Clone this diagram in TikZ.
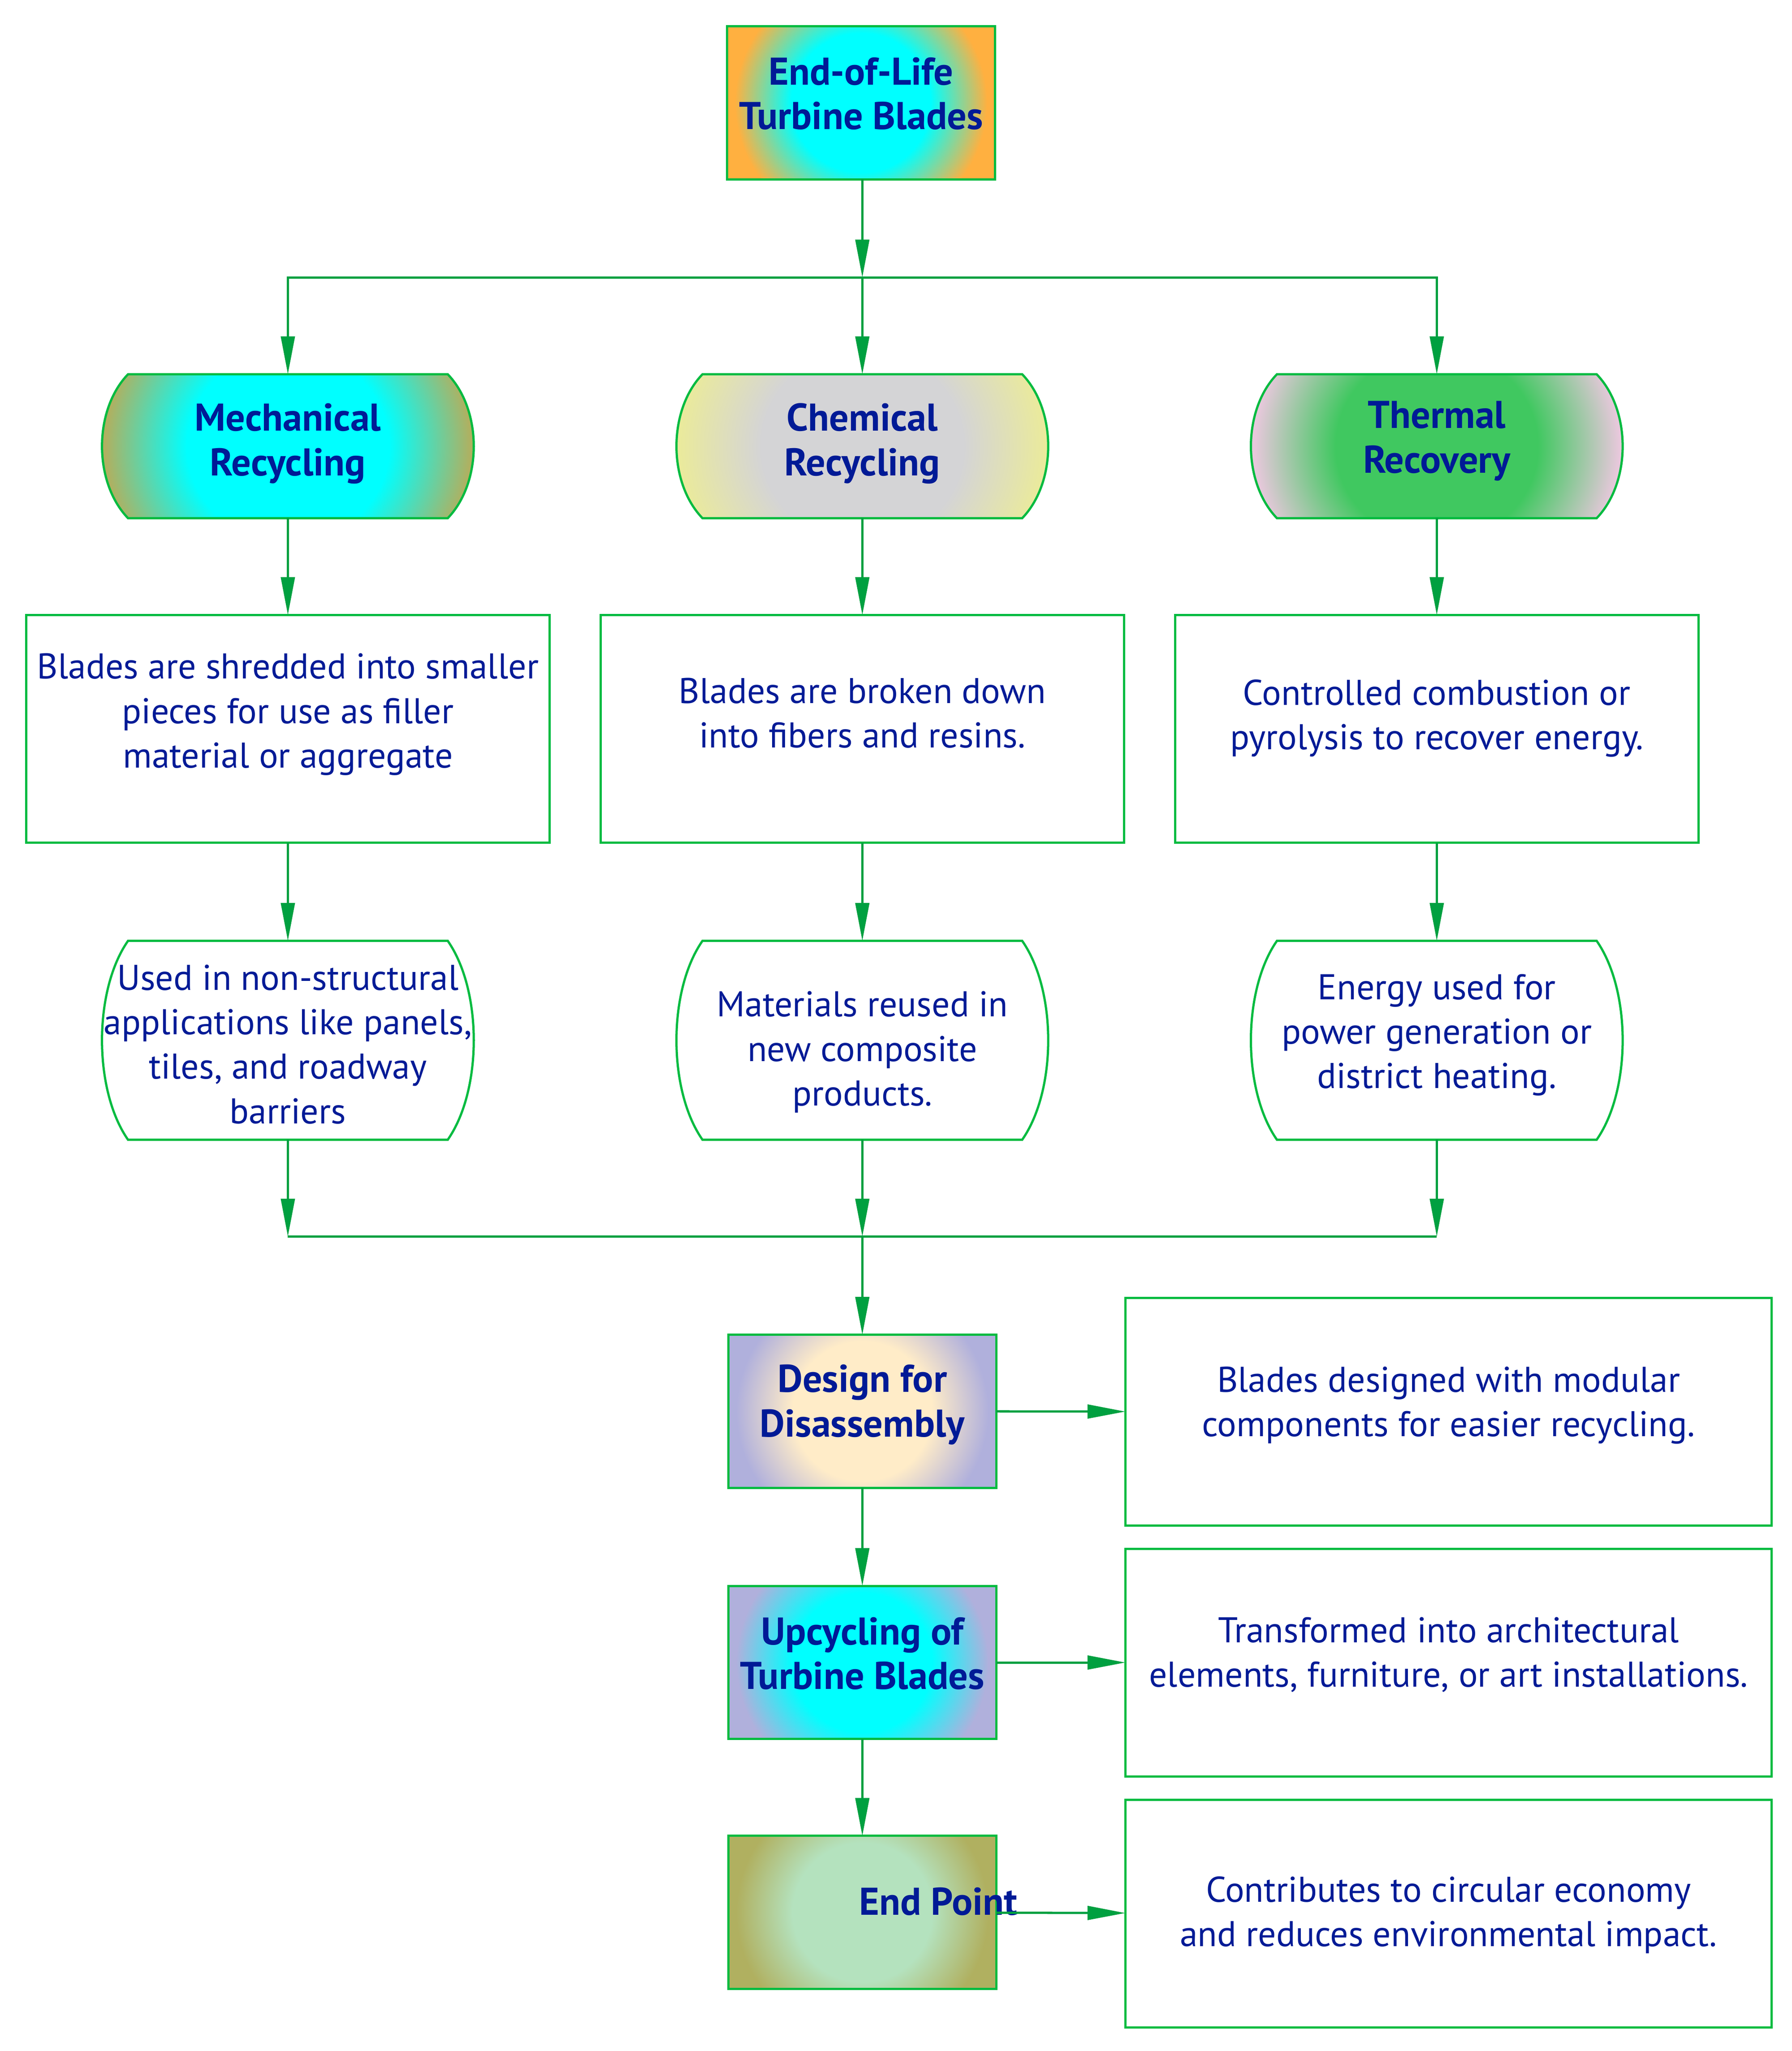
\documentclass[tikz,border=0pt]{standalone}
\usepackage{fontspec}
\setmainfont{PT Sans}
\usetikzlibrary{arrows.meta,calc,backgrounds}
\definecolor{txt}{RGB}{0,26,150}
\definecolor{bord}{RGB}{0,187,64}
\definecolor{edgec}{RGB}{0,160,64}
\definecolor{cOrange}{RGB}{255,176,64}
\definecolor{cCyan}{RGB}{0,255,255}
\definecolor{cOlive}{RGB}{176,176,96}
\definecolor{cYel}{RGB}{234,234,156}
\definecolor{cGrey}{RGB}{212,212,214}
\definecolor{cPink}{RGB}{232,200,220}
\definecolor{cGreen}{RGB}{64,200,96}
\definecolor{cLav}{RGB}{176,176,220}
\definecolor{cCream}{RGB}{255,236,200}
\definecolor{cMint}{RGB}{180,226,190}
\colorlet{gin}{white}\colorlet{gout}{white}
\pgfdeclareradialshading[gin,gout]{glow}{\pgfpoint{0bp}{0bp}}{color(0bp)=(gin); color(13bp)=(gin); color(23.5bp)=(gout); color(50bp)=(gout)}
\tikzset{
  every node/.style={outer sep=0pt, inner sep=0pt, text=txt, align=center,
    font=\fontsize{13.5pt}{16.8pt}\selectfont},
  head/.style={font=\fontsize{14.6pt}{16.8pt}\selectfont\bfseries},
  txtbox/.style 2 args={draw=bord, line width=0.85pt,
    minimum width={#1*0.494pt}, minimum height={#2*0.494pt}},
  ghost/.style 2 args={minimum width={#1*0.494pt}, minimum height={#2*0.494pt}},
  tx/.style 2 args={label={[yshift={#1*0.494pt}]center:{#2}}},
  htx/.style 2 args={label={[head, yshift={#1*0.494pt}]center:{#2}}},
  grad/.style n args={3}{fill=#2, path picture={\colorlet{gin}{#1}\colorlet{gout}{#2}%
    \shade[shading=glow] (path picture bounding box.center) circle[radius=#3];}},
  barrel/.style={draw=bord, line width=0.85pt, insert path={
    ([xshift=9.8pt]#1.north west) -- ([xshift=-9.8pt]#1.north east)
    .. controls ($(#1.north east)!0.25!(#1.south east)+(3.3pt,0)$)
       and ($(#1.north east)!0.75!(#1.south east)+(3.3pt,0)$) .. ([xshift=-9.8pt]#1.south east)
    -- ([xshift=9.8pt]#1.south west)
    .. controls ($(#1.north west)!0.75!(#1.south west)+(-3.3pt,0)$)
       and ($(#1.north west)!0.25!(#1.south west)+(-3.3pt,0)$) .. cycle}},
  arr/.style={draw=edgec, line width=0.85pt, -{Triangle[length=14.3pt,width=5.2pt]}},
  link/.style={draw=edgec, line width=0.85pt}
}
\begin{document}
\begin{tikzpicture}[x=0.494pt,y=-0.494pt]
\useasboundingbox (0,0) rectangle (1369.4,1567.4);

% top
\node[txtbox={205}{117}, grad={cCyan}{cOrange}{50.6pt},
  htx={7}{End-of-Life\\Turbine Blades}] (top) at (658,78.5) {};

% row 2
\node[ghost={284}{110}, htx={2}{Mechanical\\Recycling}] (mech) at (220,341) {};
\node[ghost={284}{110}, htx={2}{Chemical\\Recycling}] (chem) at (659,341) {};
\node[ghost={284}{110}, htx={4}{Thermal\\Recovery}] (therm) at (1098,341) {};

% row 3
\node[txtbox={400}{174}, tx={11}{Blades are shredded into smaller\\pieces for use as filler\\material or aggregate}] (mechd) at (220,557) {};
\node[txtbox={400}{174}, tx={12}{Blades are broken down\\into fibers and resins.}] (chemd) at (659,557) {};
\node[txtbox={400}{174}, tx={8}{Controlled combustion or\\pyrolysis to recover energy.}] (thermd) at (1098,557) {};

% row 4
\node[ghost={284}{152}, tx={-3}{Used in non-structural\\applications like panels,\\tiles, and roadway\\barriers}] (mechu) at (220,795) {};
\node[ghost={284}{152}, tx={-9}{Materials reused in\\new composite\\products.}] (chemu) at (659,795) {};
\node[ghost={284}{152}, tx={4}{Energy used for\\power generation or\\district heating.}] (thermu) at (1098,795) {};

% lower column
\node[txtbox={205}{117}, grad={cCream}{cLav}{50.6pt},
  htx={5}{Design for\\Disassembly}] (design) at (659,1078.5) {};
\node[txtbox={494}{174}, tx={5}{Blades designed with modular\\components for easier recycling.}] (designd) at (1107,1079) {};
\node[txtbox={205}{117}, grad={cCyan}{cLav}{50.6pt},
  htx={7}{Upcycling of\\Turbine Blades}] (upc) at (659,1270.5) {};
\node[txtbox={494}{174}, tx={6}{Transformed into architectural\\elements, furniture, or art installations.}] (upcd) at (1107,1270.5) {};
\node[txtbox={205}{117}, grad={cMint}{cOlive}{50.6pt},
  label={[head, xshift=28.7pt, yshift=4.2pt]center:End Point}] (endp) at (659,1461.5) {};
\node[txtbox={494}{174}, tx={-1}{Contributes to circular economy\\and reduces environmental impact.}] (endd) at (1107,1462.5) {};

% barrel outlines
\begin{pgfonlayer}{background}
\path[barrel=mech, grad={cCyan}{cOlive}{70pt}];
\path[barrel=chem, grad={cGrey}{cYel}{70pt}];
\path[barrel=therm, grad={cGreen}{cPink}{70pt}];
\path[barrel=mechu, fill=white];
\path[barrel=chemu, fill=white];
\path[barrel=thermu, fill=white];
\end{pgfonlayer}

% junctions
\coordinate (j1) at (659,212);
\coordinate (j2) at (659,945);
\coordinate (m1) at (220,945);
\coordinate (m3) at (1098,945);

% connectors
\draw[arr] (top.south -| j1) -- (j1);
\draw[arr] (j1) -| (mech.north);
\draw[arr] (j1) -- (chem.north);
\draw[arr] (j1) -| (therm.north);
\draw[arr] (mech) -- (mechd);
\draw[arr] (chem) -- (chemd);
\draw[arr] (therm) -- (thermd);
\draw[arr] (mechd) -- (mechu);
\draw[arr] (chemd) -- (chemu);
\draw[arr] (thermd) -- (thermu);
\draw[arr] (mechu) -- (m1);
\draw[arr] (chemu) -- (j2);
\draw[arr] (thermu) -- (m3);
\draw[link] (m1) -- (m3);
\draw[arr] (j2) -- (design);
\draw[arr] (design) -- (designd);
\draw[arr] (design) -- (upc);
\draw[arr] (upc) -- (upcd);
\draw[arr] (upc) -- (endp);
\draw[arr] (endp) -- (endd);
\end{tikzpicture}
\end{document}
